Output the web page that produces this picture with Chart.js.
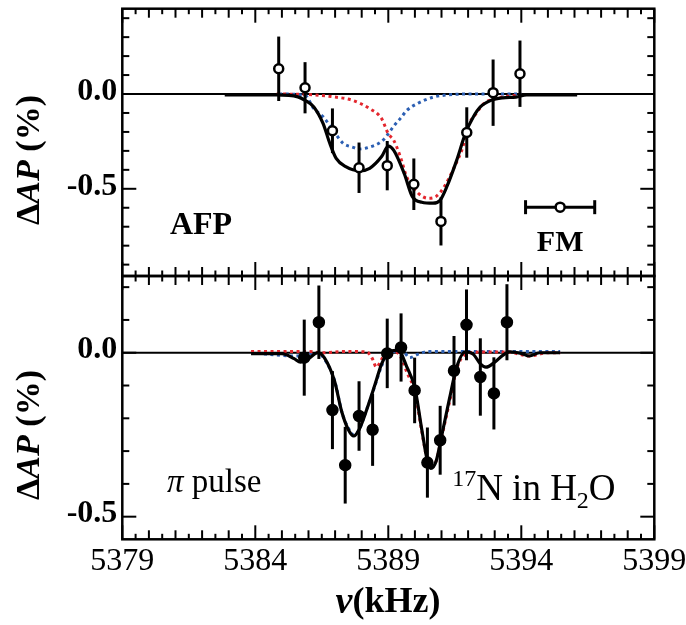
<!DOCTYPE html>
<html>
<head>
<meta charset="utf-8">
<title>17N in H2O resonance</title>
<script src="https://cdn.jsdelivr.net/npm/chart.js@4.4.1/dist/chart.umd.min.js"></script>
<style>
  html, body { margin: 0; padding: 0; background: #fff; }
  #figure { position: relative; width: 686px; height: 625px; overflow: hidden; background: #fff; }
  #figure canvas { position: absolute; left: 0; }
  #afp-panel { top: 0; }
  #pi-panel { top: 250px; }
</style>
</head>
<body>
<div id="figure">
  <canvas id="afp-panel" width="686" height="300"></canvas>
  <canvas id="pi-panel" width="686" height="375"></canvas>
</div>
<script>
/* =========================================================
   DATA
========================================================= */

const freqTicks = [5379, 5384, 5389, 5394, 5399];
const deltaTicks = [0.0, -0.5];

// AFP panel: measured points (open circles)
const afpFreq = [5384.88, 5385.87, 5386.9, 5387.9, 5388.96, 5389.96, 5390.98, 5391.95, 5392.94, 5393.95];
const afpDelta = [0.133, 0.033, -0.194, -0.389, -0.378, -0.476, -0.672, -0.203, 0.007, 0.107];
const afpErr = [0.17, 0.135, 0.118, 0.133, 0.13, 0.136, 0.127, 0.133, 0.175, 0.175];

// AFP panel: total fit (black)
const afpFitFreq = [5382.85, 5384.8, 5385.6, 5385.87, 5386.2, 5386.55, 5386.8, 5387.04, 5387.4, 5387.93,
  5388.3, 5388.75, 5389.0, 5389.2, 5389.6, 5389.9, 5390.26, 5390.68, 5390.95, 5391.2,
  5391.57, 5391.9, 5392.2, 5392.46, 5392.87, 5393.3, 5393.8, 5394.2, 5396.1];
const afpFitDelta = [-0.005, -0.005, -0.015, -0.033, -0.068, -0.156, -0.26, -0.34, -0.383, -0.405,
  -0.392, -0.33, -0.275, -0.296, -0.42, -0.54, -0.571, -0.576, -0.56, -0.489,
  -0.35, -0.208, -0.12, -0.068, -0.033, -0.02, -0.016, -0.005, -0.005];

// AFP panel: upper-line component (red dotted)
const afpRedFreq = [5384.8, 5386.0, 5387.0, 5387.65, 5388.3, 5388.75, 5389.0, 5389.2, 5389.45, 5389.7,
  5390.1, 5390.5, 5390.8, 5391.1, 5391.5, 5391.8, 5392.0, 5392.3, 5392.6, 5393.0, 5393.8, 5394.0];
const afpRedDelta = [0, -0.003, -0.016, -0.033, -0.077, -0.13, -0.21, -0.243, -0.33, -0.44,
  -0.52, -0.55, -0.54, -0.49, -0.38, -0.28, -0.17, -0.103, -0.05, -0.025, -0.007, -0.005];

// AFP panel: lower-line component (blue dotted)
const afpBlueFreq = [5384.9, 5385.87, 5386.2, 5386.55, 5386.97, 5387.3, 5387.65, 5387.9, 5388.3, 5388.75,
  5389.0, 5389.2, 5389.45, 5389.7, 5390.1, 5390.7, 5391.4, 5392.0, 5394.0];
const afpBlueDelta = [0, -0.007, -0.077, -0.12, -0.2, -0.26, -0.28, -0.29, -0.28, -0.25,
  -0.21, -0.17, -0.13, -0.086, -0.05, -0.016, -0.003, 0, 0];

// FM amplitude marker
const fmFreq = [5395.46];
const fmDelta = [-0.597];
const fmHalfWidth = [1.3];

// pi-pulse panel: measured points (filled circles)
const piFreq = [5385.84, 5386.39, 5386.9, 5387.38, 5387.9, 5388.41, 5388.96, 5389.48,
  5389.99, 5390.47, 5390.95, 5391.47, 5391.94, 5392.46, 5392.97, 5393.46];
const piDelta = [-0.015, 0.093, -0.175, -0.343, -0.193, -0.235, -0.002, 0.016,
  -0.115, -0.335, -0.267, -0.055, 0.085, -0.074, -0.124, 0.093];
const piErr = [0.116, 0.112, 0.119, 0.117, 0.106, 0.11, 0.106, 0.104,
  0.1, 0.107, 0.105, 0.106, 0.108, 0.118, 0.11, 0.116];

// pi-pulse panel: total fit (black)
const piFitFreq = [5383.84, 5385.0, 5385.46, 5385.7, 5386.0, 5386.35, 5386.6, 5386.98, 5387.25, 5387.5,
  5387.7, 5387.9, 5388.2, 5388.5, 5388.75, 5389.0, 5389.37, 5389.7, 5390.0, 5390.26,
  5390.47, 5390.6, 5390.8, 5391.0, 5391.3, 5391.57, 5391.9, 5392.2, 5392.46, 5392.67,
  5393.0, 5393.3, 5393.57, 5394.0, 5394.3, 5394.7, 5395.46];
const piFitDelta = [-0.003, -0.003, -0.018, -0.029, -0.018, 0, -0.016, -0.087, -0.18, -0.235,
  -0.254, -0.235, -0.171, -0.097, -0.034, 0, 0.008, -0.044, -0.108, -0.235,
  -0.33, -0.353, -0.33, -0.256, -0.14, -0.044, 0.003, -0.005, -0.034, -0.044,
  -0.029, -0.008, 0.003, -0.002, -0.01, 0, 0];

// pi-pulse panel: upper-line component (red dotted)
const piRedFreq = [5383.84, 5386.0, 5386.5, 5387.5, 5388.2, 5388.4, 5388.55, 5388.75, 5388.9, 5389.2,
  5389.45, 5389.7, 5390.0, 5390.26, 5390.47, 5390.6, 5390.8, 5391.0, 5391.3, 5391.57,
  5391.9, 5392.5, 5393.5, 5394.3, 5395.0, 5395.46];
const piRedDelta = [0.004, 0.004, 0, 0.004, 0.002, -0.018, -0.044, -0.02, 0, 0.005,
  -0.01, -0.06, -0.12, -0.24, -0.33, -0.35, -0.33, -0.26, -0.15, -0.05,
  -0.005, 0.002, 0.002, -0.01, 0, 0];

// pi-pulse panel: lower-line component (blue dotted)
const piBlueFreq = [5383.84, 5385.5, 5386.35, 5386.6, 5387.0, 5387.25, 5387.5, 5387.7, 5387.9, 5388.2,
  5388.5, 5388.75, 5389.0, 5389.3, 5389.6, 5389.8, 5390.1, 5390.5, 5392.5, 5395.46];
const piBlueDelta = [0, -0.01, 0, -0.02, -0.09, -0.18, -0.23, -0.25, -0.235, -0.17,
  -0.1, -0.04, 0, 0.004, 0, -0.015, -0.005, 0.004, 0.004, 0.004];

/* =========================================================
   STYLE
========================================================= */

const SERIF = '"Liberation Serif", "Times New Roman", Times, serif';
const RED = "#e3262d";
const BLUE = "#2c5fb3";

/* =========================================================
   HELPERS
========================================================= */

function zip(xs, ys) {
  return xs.map((x, i) => ({ x, y: ys[i] }));
}

function strokeLine(ctx, x1, y1, x2, y2) {
  ctx.beginPath();
  ctx.moveTo(x1, y1);
  ctx.lineTo(x2, y2);
  ctx.stroke();
}

// draws a row of differently styled text pieces
function drawRuns(ctx, runs, x, y, align = "left", baseline = "alphabetic") {
  ctx.save();
  ctx.fillStyle = "#000";
  ctx.textAlign = "left";
  ctx.textBaseline = baseline;
  const widths = runs.map((r) => {
    ctx.font = r.font;
    return ctx.measureText(r.text).width;
  });
  const total = widths.reduce((a, b) => a + b, 0);
  let cx = align === "center" ? x - total / 2 : x;
  runs.forEach((r, i) => {
    ctx.font = r.font;
    ctx.fillText(r.text, cx, y + (r.dy || 0));
    cx += widths[i];
  });
  ctx.restore();
}

const deltaTitle = [
  { text: "\u0394", font: `bold 34px ${SERIF}` },
  { text: "AP", font: `italic bold 34px ${SERIF}` },
  { text: " (%)", font: `bold 34px ${SERIF}` }
];

const freqTitle = [
  { text: "\u03bd", font: `italic bold 38px ${SERIF}` },
  { text: "(kHz)", font: `bold 36px ${SERIF}` }
];

/* =========================================================
   PLUGINS
========================================================= */

const errorBars = {
  id: "errorBars",
  beforeDatasetDraw(chart, args) {
    const ds = chart.data.datasets[args.index];
    if (!ds.yErr && !ds.xErr) return;
    const { ctx, scales: { x, y } } = chart;
    ctx.save();
    ctx.strokeStyle = "#000";
    ctx.lineWidth = 3;
    ds.data.forEach((p, i) => {
      const px = x.getPixelForValue(p.x);
      const py = y.getPixelForValue(p.y);
      if (ds.yErr) {
        strokeLine(ctx, px, y.getPixelForValue(p.y + ds.yErr[i]), px, y.getPixelForValue(p.y - ds.yErr[i]));
      }
      if (ds.xErr) {
        const l = x.getPixelForValue(p.x - ds.xErr[i]);
        const r = x.getPixelForValue(p.x + ds.xErr[i]);
        strokeLine(ctx, l, py, r, py);
        strokeLine(ctx, l, py - 7, l, py + 7);
        strokeLine(ctx, r, py - 7, r, py + 7);
      }
    });
    ctx.restore();
  }
};

const frameAndTicks = {
  id: "frameAndTicks",
  beforeDatasetsDraw(chart) {
    // zero reference line
    const { ctx, chartArea: a, scales: { y } } = chart;
    const py = y.getPixelForValue(0);
    ctx.save();
    ctx.strokeStyle = "#000";
    ctx.lineWidth = 2;
    strokeLine(ctx, a.left, py, a.right, py);
    ctx.restore();
  },
  afterDraw(chart) {
    const { ctx, chartArea: a, scales: { x, y } } = chart;
    ctx.save();
    ctx.strokeStyle = "#000";
    ctx.lineWidth = 2;

    // frequency ticks every 0.5 kHz, pointing inward
    for (let k = 0; k <= 40; k++) {
      const f = 5379 + k * 0.5;
      const len = k % 10 === 0 ? 14 : k % 2 === 0 ? 9 : 5.5;
      const px = x.getPixelForValue(f);
      strokeLine(ctx, px, a.top, px, a.top + len);
      strokeLine(ctx, px, a.bottom, px, a.bottom - len);
    }

    // asymmetry ticks every 0.1
    for (let k = Math.ceil(y.min * 10); k <= Math.floor(y.max * 10); k++) {
      const len = k % 5 === 0 ? 14 : 7;
      const py = y.getPixelForValue(k / 10);
      strokeLine(ctx, a.left, py, a.left + len, py);
      strokeLine(ctx, a.right, py, a.right - len, py);
    }

    ctx.lineWidth = 2.5;
    ctx.strokeRect(a.left, a.top, a.right - a.left, a.bottom - a.top);
    ctx.restore();
  }
};

const panelText = {
  id: "panelText",
  afterDraw(chart, args, opts) {
    const { ctx, scales: { x, y } } = chart;
    (opts.notes || []).forEach((n) => {
      drawRuns(ctx, n.runs, x.getPixelForValue(n.x), y.getPixelForValue(n.y), n.align);
    });
    if (opts.yTitle) {
      ctx.save();
      ctx.translate(opts.yTitle.x, opts.yTitle.y);
      ctx.rotate(-Math.PI / 2);
      drawRuns(ctx, deltaTitle, 0, 0, "center", "middle");
      ctx.restore();
    }
    if (opts.xTitle) {
      drawRuns(ctx, freqTitle, opts.xTitle.x, opts.xTitle.y, "center", "middle");
    }
  }
};

/* =========================================================
   PANEL FACTORY
========================================================= */

function fitLine(xs, ys, color, dotted) {
  return {
    data: zip(xs, ys),
    borderColor: color,
    borderWidth: dotted ? 3 : 3.2,
    borderDash: dotted ? [3, 3.5] : [],
    pointRadius: 0,
    cubicInterpolationMode: "monotone",
    fill: false
  };
}

function makePanel(canvasId, panel) {
  const canvas = document.getElementById(canvasId);

  return new Chart(canvas, {
    type: "line",
    data: { datasets: panel.datasets },
    options: {
      responsive: false,
      animation: false,
      events: [],
      layout: { padding: panel.padding },
      plugins: {
        legend: { display: false },
        tooltip: { enabled: false },
        panelText: panel.text
      },
      scales: {
        x: {
          type: "linear",
          min: 5379,
          max: 5399,
          grid: { display: false, drawTicks: false },
          border: { display: false },
          ticks: {
            display: panel.showFreqLabels,
            color: "#000",
            padding: 3,
            maxRotation: 0,
            autoSkip: false,
            font: { family: SERIF, size: 32 },
            callback: (v) => String(v)
          },
          afterBuildTicks: (s) => {
            s.ticks = freqTicks.map((v) => ({ value: v }));
          },
          afterFit: (s) => {
            s.height = panel.xAxisHeight;
            s.paddingLeft = 0;
            s.paddingRight = 0;
          }
        },
        y: {
          type: "linear",
          min: panel.yMin,
          max: panel.yMax,
          grid: { display: false, drawTicks: false },
          border: { display: false },
          ticks: {
            color: "#000",
            padding: 5,
            labelOffset: -2.5,
            font: { family: SERIF, size: 32, weight: "bold" },
            callback: (v) => v.toFixed(1)
          },
          afterBuildTicks: (s) => {
            s.ticks = deltaTicks.map((v) => ({ value: v }));
          },
          afterFit: (s) => {
            s.width = 122.3;
            s.paddingTop = 0;
            s.paddingBottom = 0;
          }
        }
      }
    },
    plugins: [errorBars, frameAndTicks, panelText]
  });
}

/* =========================================================
   BUILD
========================================================= */

makePanel("afp-panel", {
  yMin: -0.96,
  yMax: 0.45,
  padding: { top: 8.7, right: 31.7, left: 0, bottom: 0 },
  xAxisHeight: 24,
  showFreqLabels: false,
  datasets: [
    {
      data: zip(afpFreq, afpDelta),
      yErr: afpErr,
      showLine: false,
      pointRadius: 4.5,
      pointBorderWidth: 2.5,
      pointBackgroundColor: "#fff",
      pointBorderColor: "#000"
    },
    {
      data: zip(fmFreq, fmDelta),
      xErr: fmHalfWidth,
      showLine: false,
      pointRadius: 4.5,
      pointBorderWidth: 2.5,
      pointBackgroundColor: "#fff",
      pointBorderColor: "#000"
    },
    fitLine(afpFitFreq, afpFitDelta, "#000", false),
    fitLine(afpRedFreq, afpRedDelta, RED, true),
    fitLine(afpBlueFreq, afpBlueDelta, BLUE, true)
  ],
  text: {
    yTitle: { x: 30, y: 160 },
    notes: [
      { x: 5380.79, y: -0.74, runs: [{ text: "AFP", font: `bold 32px ${SERIF}` }] },
      { x: 5395.46, y: -0.826, align: "center", runs: [{ text: "FM", font: `bold 30px ${SERIF}` }] }
    ]
  }
});

makePanel("pi-panel", {
  yMin: -0.569,
  yMax: 0.234,
  padding: { top: 26, right: 31.7, left: 0, bottom: 0 },
  xAxisHeight: 85.7,
  showFreqLabels: true,
  datasets: [
    {
      data: zip(piFreq, piDelta),
      yErr: piErr,
      showLine: false,
      pointRadius: 5.5,
      pointBorderWidth: 1.5,
      pointBackgroundColor: "#000",
      pointBorderColor: "#000"
    },
    fitLine(piFitFreq, piFitDelta, "#000", false),
    fitLine(piRedFreq, piRedDelta, RED, true),
    fitLine(piBlueFreq, piBlueDelta, BLUE, true)
  ],
  text: {
    yTitle: { x: 30, y: 185 },
    xTitle: { x: 388, y: 353 },
    notes: [
      {
        x: 5380.68,
        y: -0.424,
        runs: [
          { text: "\u03c0", font: `italic 33px ${SERIF}` },
          { text: " pulse", font: `33px ${SERIF}` }
        ]
      },
      {
        x: 5391.4,
        y: -0.449,
        runs: [
          { text: "17", font: `24px ${SERIF}`, dy: -14 },
          { text: "N in H", font: `37px ${SERIF}` },
          { text: "2", font: `24px ${SERIF}`, dy: 8 },
          { text: "O", font: `37px ${SERIF}` }
        ]
      }
    ]
  }
});
</script>
</body>
</html>
